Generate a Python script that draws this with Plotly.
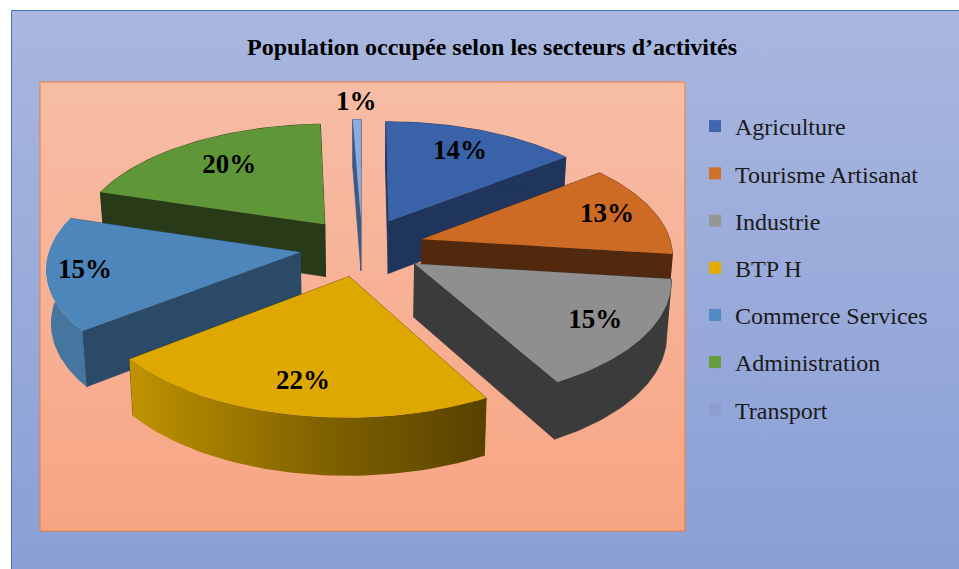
import math
import plotly.graph_objects as go

# ---- data ----
title_text = "Population occupée selon les secteurs d’activités"
categories = ["Agriculture", "Tourisme Artisanat", "Industrie", "BTP H",
              "Commerce Services", "Administration", "Transport"]
values = [14.4, 12.6, 15.0, 22.4, 15.4, 19.6, 0.6]

# ---- styles ----
top_colors = ["#3a62a8", "#cd6b25", "#8f8f8f", "#dfa800", "#4c86ba", "#5f9638", "#8faadc"]
legend_colors = ["#3f66ae", "#d1702c", "#969696", "#e2ab00", "#4f8bc0", "#659f3d", "#8e9dcf"]
wall_colors = ["#20355c", "#52290e", "#3b3b3b", "#5c4500", "#2a4a67", "#293a18", "#3f5a82"]
arc_gradients = [None, None, None,
                 [[0, "#c09300"], [0.5, "#856500"], [1, "#574100"]],
                 [[0, "#44769f"], [1, "#44769f"]], None, None]
draw_order = [0, 6, 5, 1, 4, 2, 3]          # back to front
label_radius = [0.74, 0.80, 0.80, 0.79, 0.85, 0.70, 1.19]

# ---- projection of the tilted pie ----
CX, CY, A, B, K, EXPLODE, DEPTH, SHRINK = 362, 247, 250, 117, 0.117, 0.25, 53, 0.985


def project(theta_deg, r, mid_deg, lower=False):
    """Screen position of a point of an exploded slice."""
    t, m = math.radians(theta_deg), math.radians(mid_deg)
    u = r * math.sin(t) + EXPLODE * math.sin(m)
    v = r * math.cos(t) + EXPLODE * math.cos(m)
    w = 1 + K * v
    sx, sy = A * u / w, -B * v / w
    if lower:
        return CX + sx * SHRINK, CY + sy + DEPTH / w ** 0.6
    return CX + sx, CY + sy


def arc(a0, a1, mid, lower=False, n=48):
    pts = [project(a0 + (a1 - a0) * i / n, 1, mid, lower) for i in range(n + 1)]
    return pts


def poly(pts, line=None, **kw):
    xs = [p[0] for p in pts] + [pts[0][0]]
    ys = [p[1] for p in pts] + [pts[0][1]]
    return go.Scatter(x=xs, y=ys, mode="lines", fill="toself", line=line or dict(width=0),
                      hoverinfo="skip", showlegend=False, **kw)


total = sum(values)
angles = []
start = 0.0
for v in values:
    angles.append((start, start + 360 * v / total))
    start += 360 * v / total

fig = go.Figure()

# backgrounds
fig.add_trace(poly([(11.5, 10.5), (959, 10.5), (959, 569), (11.5, 569)],
                   fillgradient=dict(type="vertical", colorscale=[[0, "#8a9fd6"], [1, "#a9b7df"]])))
fig.add_trace(poly([(40, 82), (685, 82), (685, 531), (40, 531)],
                   fillgradient=dict(type="vertical", colorscale=[[0, "#f7a583"], [1, "#f7bda6"]])))

# slices
for i in draw_order:
    a0, a1 = angles[i]
    mid = (a0 + a1) / 2
    apex_t = project(mid, 0, mid)
    apex_b = project(mid, 0, mid, True)
    wall_line = dict(color=wall_colors[i], width=0.7)
    # radial walls
    for a in (a0, a1):
        fig.add_trace(poly([apex_t, project(a, 1, mid), project(a, 1, mid, True), apex_b],
                           line=wall_line, fillcolor=wall_colors[i]))
    # outer wall
    outer = arc(a0, a1, mid) + arc(a0, a1, mid, True)[::-1]
    if arc_gradients[i]:
        fig.add_trace(poly(outer, fillgradient=dict(type="horizontal", colorscale=arc_gradients[i])))
    else:
        fig.add_trace(poly(outer, line=wall_line, fillcolor=wall_colors[i]))
    # top
    fig.add_trace(poly([apex_t] + arc(a0, a1, mid), fillcolor=top_colors[i]))

# percentage labels
lx, ly = [], []
for (a0, a1), r in zip(angles, label_radius):
    mid = (a0 + a1) / 2
    p = project(mid, r, mid)
    lx.append(p[0])
    ly.append(p[1])
fig.add_trace(go.Scatter(x=lx, y=ly, mode="text",
                         text=[f"{round(100 * v / total)}%" for v in values],
                         textposition="middle center", hoverinfo="skip", showlegend=False,
                         textfont=dict(family="Liberation Serif", size=27, color="#000000",
                                       weight="bold")))

# legend entries
for name, col in zip(categories, legend_colors):
    fig.add_trace(go.Scatter(x=[None], y=[None], mode="markers", name=name, legendgroup=name,
                             marker=dict(symbol="square", size=12, color=col)))

fig.update_layout(
    width=959, height=569, margin=dict(l=0, r=0, t=0, b=0), autosize=False,
    paper_bgcolor="#ffffff", plot_bgcolor="rgba(0,0,0,0)",
    xaxis=dict(range=[0, 959], visible=False, fixedrange=True),
    yaxis=dict(range=[569, 0], visible=False, fixedrange=True),
    title=dict(text=title_text, x=492 / 959, y=1 - 47 / 569, xanchor="center", yanchor="middle",
               font=dict(family="Liberation Serif", size=24, color="#000000", weight="bold")),
    legend=dict(x=695 / 959, y=1 - 104 / 569, xanchor="left", yanchor="top",
                bgcolor="rgba(0,0,0,0)", tracegroupgap=13, itemclick=False, itemdoubleclick=False,
                font=dict(family="Liberation Serif", size=24, color="#1a1a1a")),
    shapes=[
        dict(type="rect", x0=11.5, y0=10.5, x1=975, y1=585, xref="x", yref="y",
             line=dict(color="#4472c4", width=1)),
        dict(type="rect", x0=40, y0=82, x1=685, y1=531, xref="x", yref="y",
             line=dict(color="#ed7d31", width=1)),
    ],
)

fig.write_html("out.html", config={"displayModeBar": False},
               post_script="document.body.style.margin='0';")
